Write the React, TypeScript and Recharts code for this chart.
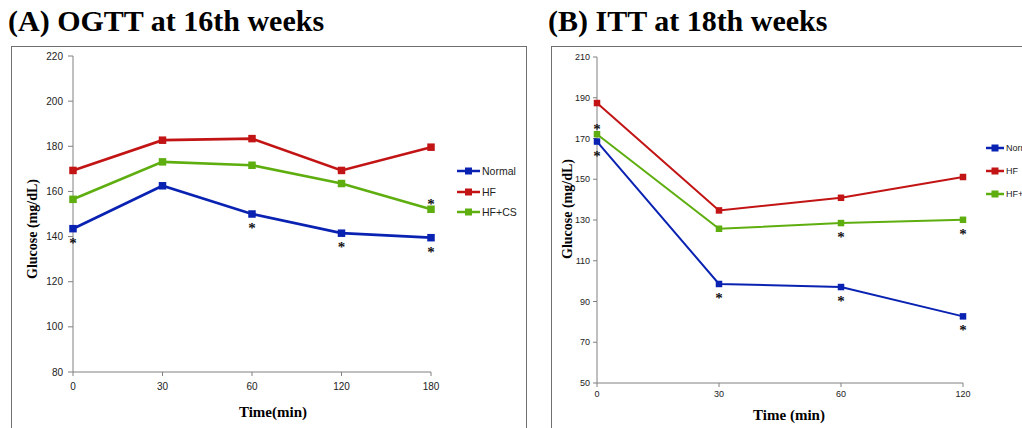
import React from 'react';
import { LineChart, Line, XAxis, YAxis, Legend, LabelList } from 'recharts';

// (A) OGTT at 16th weeks
const timesA = ['0', '30', '60', '120', '180'];
const normalA = [143.5, 162.5, 150, 141.5, 139.5];
const hfA = [169.3, 182.7, 183.4, 169.3, 179.6];
const hfcsA = [156.5, 173.1, 171.6, 163.5, 152.1];
// significance marks: 1 = asterisk below the point, -1 = above, 0 = none
const starsNormalA = [1, 0, 1, 1, 1];
const starsHfcsA = [0, 0, 0, 0, -1];
const ticksA = [80, 100, 120, 140, 160, 180, 200, 220];

// (B) ITT at 18th weeks
const timesB = ['0', '30', '60', '120'];
const normalB = [168.5, 98.6, 97.1, 82.7];
const hfB = [187.4, 134.7, 140.9, 151.1];
const hfcsB = [172.1, 125.7, 128.5, 130.1];
const starsNormalB = [1, 1, 1, 1];
const starsHfcsB = [-1, 0, 1, 1];
const ticksB = [50, 70, 90, 110, 130, 150, 170, 190, 210];

const seriesNames = ['Normal', 'HF', 'HF+CS'];
const COLORS: Record<string, string> = {
  Normal: '#0a22b2',
  HF: '#c21414',
  'HF+CS': '#5fae10',
};

const dataA = timesA.map((t, i) => ({
  time: t,
  Normal: normalA[i],
  HF: hfA[i],
  'HF+CS': hfcsA[i],
  starNormal: starsNormalA[i],
  starHfcs: starsHfcsA[i],
}));

const dataB = timesB.map((t, i) => ({
  time: t,
  Normal: normalB[i],
  HF: hfB[i],
  'HF+CS': hfcsB[i],
  starNormal: starsNormalB[i],
  starHfcs: starsHfcsB[i],
}));

const SERIF = '"Liberation Serif", "DejaVu Serif", serif';
const SANS = '"Liberation Sans", Arial, sans-serif';
const AXIS = '#808080';

const squareDot = (size: number, color: string) => (props: any) => {
  const { cx, cy, index } = props;
  if (cx == null || cy == null) return <g key={index} />;
  return <rect key={index} x={cx - size / 2} y={cy - size / 2} width={size} height={size} fill={color} />;
};

const star = (props: any) => {
  const { x, y, value, index } = props;
  if (!value) return <g key={index} />;
  const cy = value > 0 ? y + 11 : y - 8;
  return (
    <text key={index} x={x} y={cy + 8} textAnchor="middle" fontFamily={SERIF} fontWeight="bold" fontSize={15} fill="#111">
      *
    </text>
  );
};

const makeLegend = (lineW: number, rowH: number, fontSize: number) => () => (
  <div style={{ fontFamily: SANS, fontSize, color: '#222' }}>
    {seriesNames.map((n) => (
      <div key={n} style={{ display: 'flex', alignItems: 'center', height: rowH }}>
        <svg width={lineW} height={8} style={{ marginRight: 2 }}>
          <line x1={0} y1={4} x2={lineW} y2={4} stroke={COLORS[n]} strokeWidth={2.5} />
          <rect x={lineW / 2 - 3.5} y={0.5} width={7} height={7} fill={COLORS[n]} />
        </svg>
        <span style={{ whiteSpace: 'nowrap' }}>{n}</span>
      </div>
    ))}
  </div>
);

const frame: React.CSSProperties = {
  position: 'absolute',
  top: 46,
  height: 400,
  border: '1px solid #707070',
  background: '#fff',
  overflow: 'hidden',
};

const title: React.CSSProperties = {
  position: 'absolute',
  top: 3,
  fontFamily: SERIF,
  fontWeight: 'bold',
  fontSize: 30,
  lineHeight: '36px',
  whiteSpace: 'nowrap',
  color: '#000',
};

const axisTitle: React.CSSProperties = {
  position: 'absolute',
  fontFamily: SERIF,
  fontWeight: 'bold',
  fontSize: 15,
  whiteSpace: 'nowrap',
  color: '#000',
  lineHeight: '18px',
  width: 200,
  textAlign: 'center',
};

export default function App() {
  const tickStyle = { fontFamily: SANS, fontSize: 10, fill: '#222' };
  return (
    <div style={{ position: 'absolute', left: 0, top: 0, width: 1022, height: 428, background: '#fff', overflow: 'hidden' }}>
      <div style={{ ...title, left: 8 }}>(A) OGTT at 16th weeks</div>
      <div style={{ ...title, left: 548 }}>(B) ITT at 18th weeks</div>

      {/* Panel A */}
      <div style={{ ...frame, left: 11, width: 514 }}>
        <LineChart width={514} height={381} data={dataA} margin={{ top: 9, right: 95, left: 16, bottom: 31 }}>
          <XAxis
            dataKey="time"
            height={25}
            stroke={AXIS}
            tickSize={4}
            tick={tickStyle}
            tickMargin={7}
          />
          <YAxis
            width={45}
            domain={[80, 220]}
            ticks={ticksA}
            interval={0}
            stroke={AXIS}
            tickSize={5}
            tick={tickStyle}
            tickMargin={5}
          />
          <Legend
            layout="vertical"
            align="center"
            verticalAlign="middle"
            wrapperStyle={{ left: 445, top: 114, width: 80 }}
            content={makeLegend(23, 20.5, 10.5)}
          />
          {seriesNames.map((n) => (
            <Line
              key={n}
              dataKey={n}
              stroke={COLORS[n]}
              strokeWidth={2.7}
              dot={squareDot(7.5, COLORS[n])}
              activeDot={false}
              isAnimationActive={false}
            >
              {n === 'Normal' && <LabelList dataKey="starNormal" content={star} />}
              {n === 'HF+CS' && <LabelList dataKey="starHfcs" content={star} />}
            </Line>
          ))}
        </LineChart>
        <div style={{ ...axisTitle, fontSize: 14, left: 21 - 100, top: 182 - 9, transform: 'rotate(-90deg)' }}>
          Glucose (mg/dL)
        </div>
        <div style={{ ...axisTitle, left: 261 - 100, top: 356 }}>Time(min)</div>
      </div>

      {/* Panel B */}
      <div style={{ ...frame, left: 551, width: 480 }}>
        <LineChart width={470} height={381} data={dataB} margin={{ top: 10, right: 59, left: 10, bottom: 23 }}>
          <XAxis
            dataKey="time"
            height={22}
            stroke={AXIS}
            tickSize={4}
            tick={{ ...tickStyle, fontSize: 9 }}
            tickMargin={4}
          />
          <YAxis
            width={35}
            domain={[50, 210]}
            ticks={ticksB}
            interval={0}
            stroke={AXIS}
            tickSize={4}
            tick={{ ...tickStyle, fontSize: 9 }}
            tickMargin={3}
          />
          <Legend
            layout="vertical"
            align="center"
            verticalAlign="middle"
            wrapperStyle={{ left: 434, top: 89, width: 60 }}
            content={makeLegend(18, 23, 9)}
          />
          {seriesNames.map((n) => (
            <Line
              key={n}
              dataKey={n}
              stroke={COLORS[n]}
              strokeWidth={2}
              dot={squareDot(6.5, COLORS[n])}
              activeDot={false}
              isAnimationActive={false}
            >
              {n === 'Normal' && <LabelList dataKey="starNormal" content={star} />}
              {n === 'HF+CS' && <LabelList dataKey="starHfcs" content={star} />}
            </Line>
          ))}
        </LineChart>
        <div style={{ ...axisTitle, fontSize: 14, left: 16 - 100, top: 162 - 9, transform: 'rotate(-90deg)' }}>
          Glucose (mg/dL)
        </div>
        <div style={{ ...axisTitle, left: 237 - 100, top: 359 }}>Time (min)</div>
      </div>
    </div>
  );
}
